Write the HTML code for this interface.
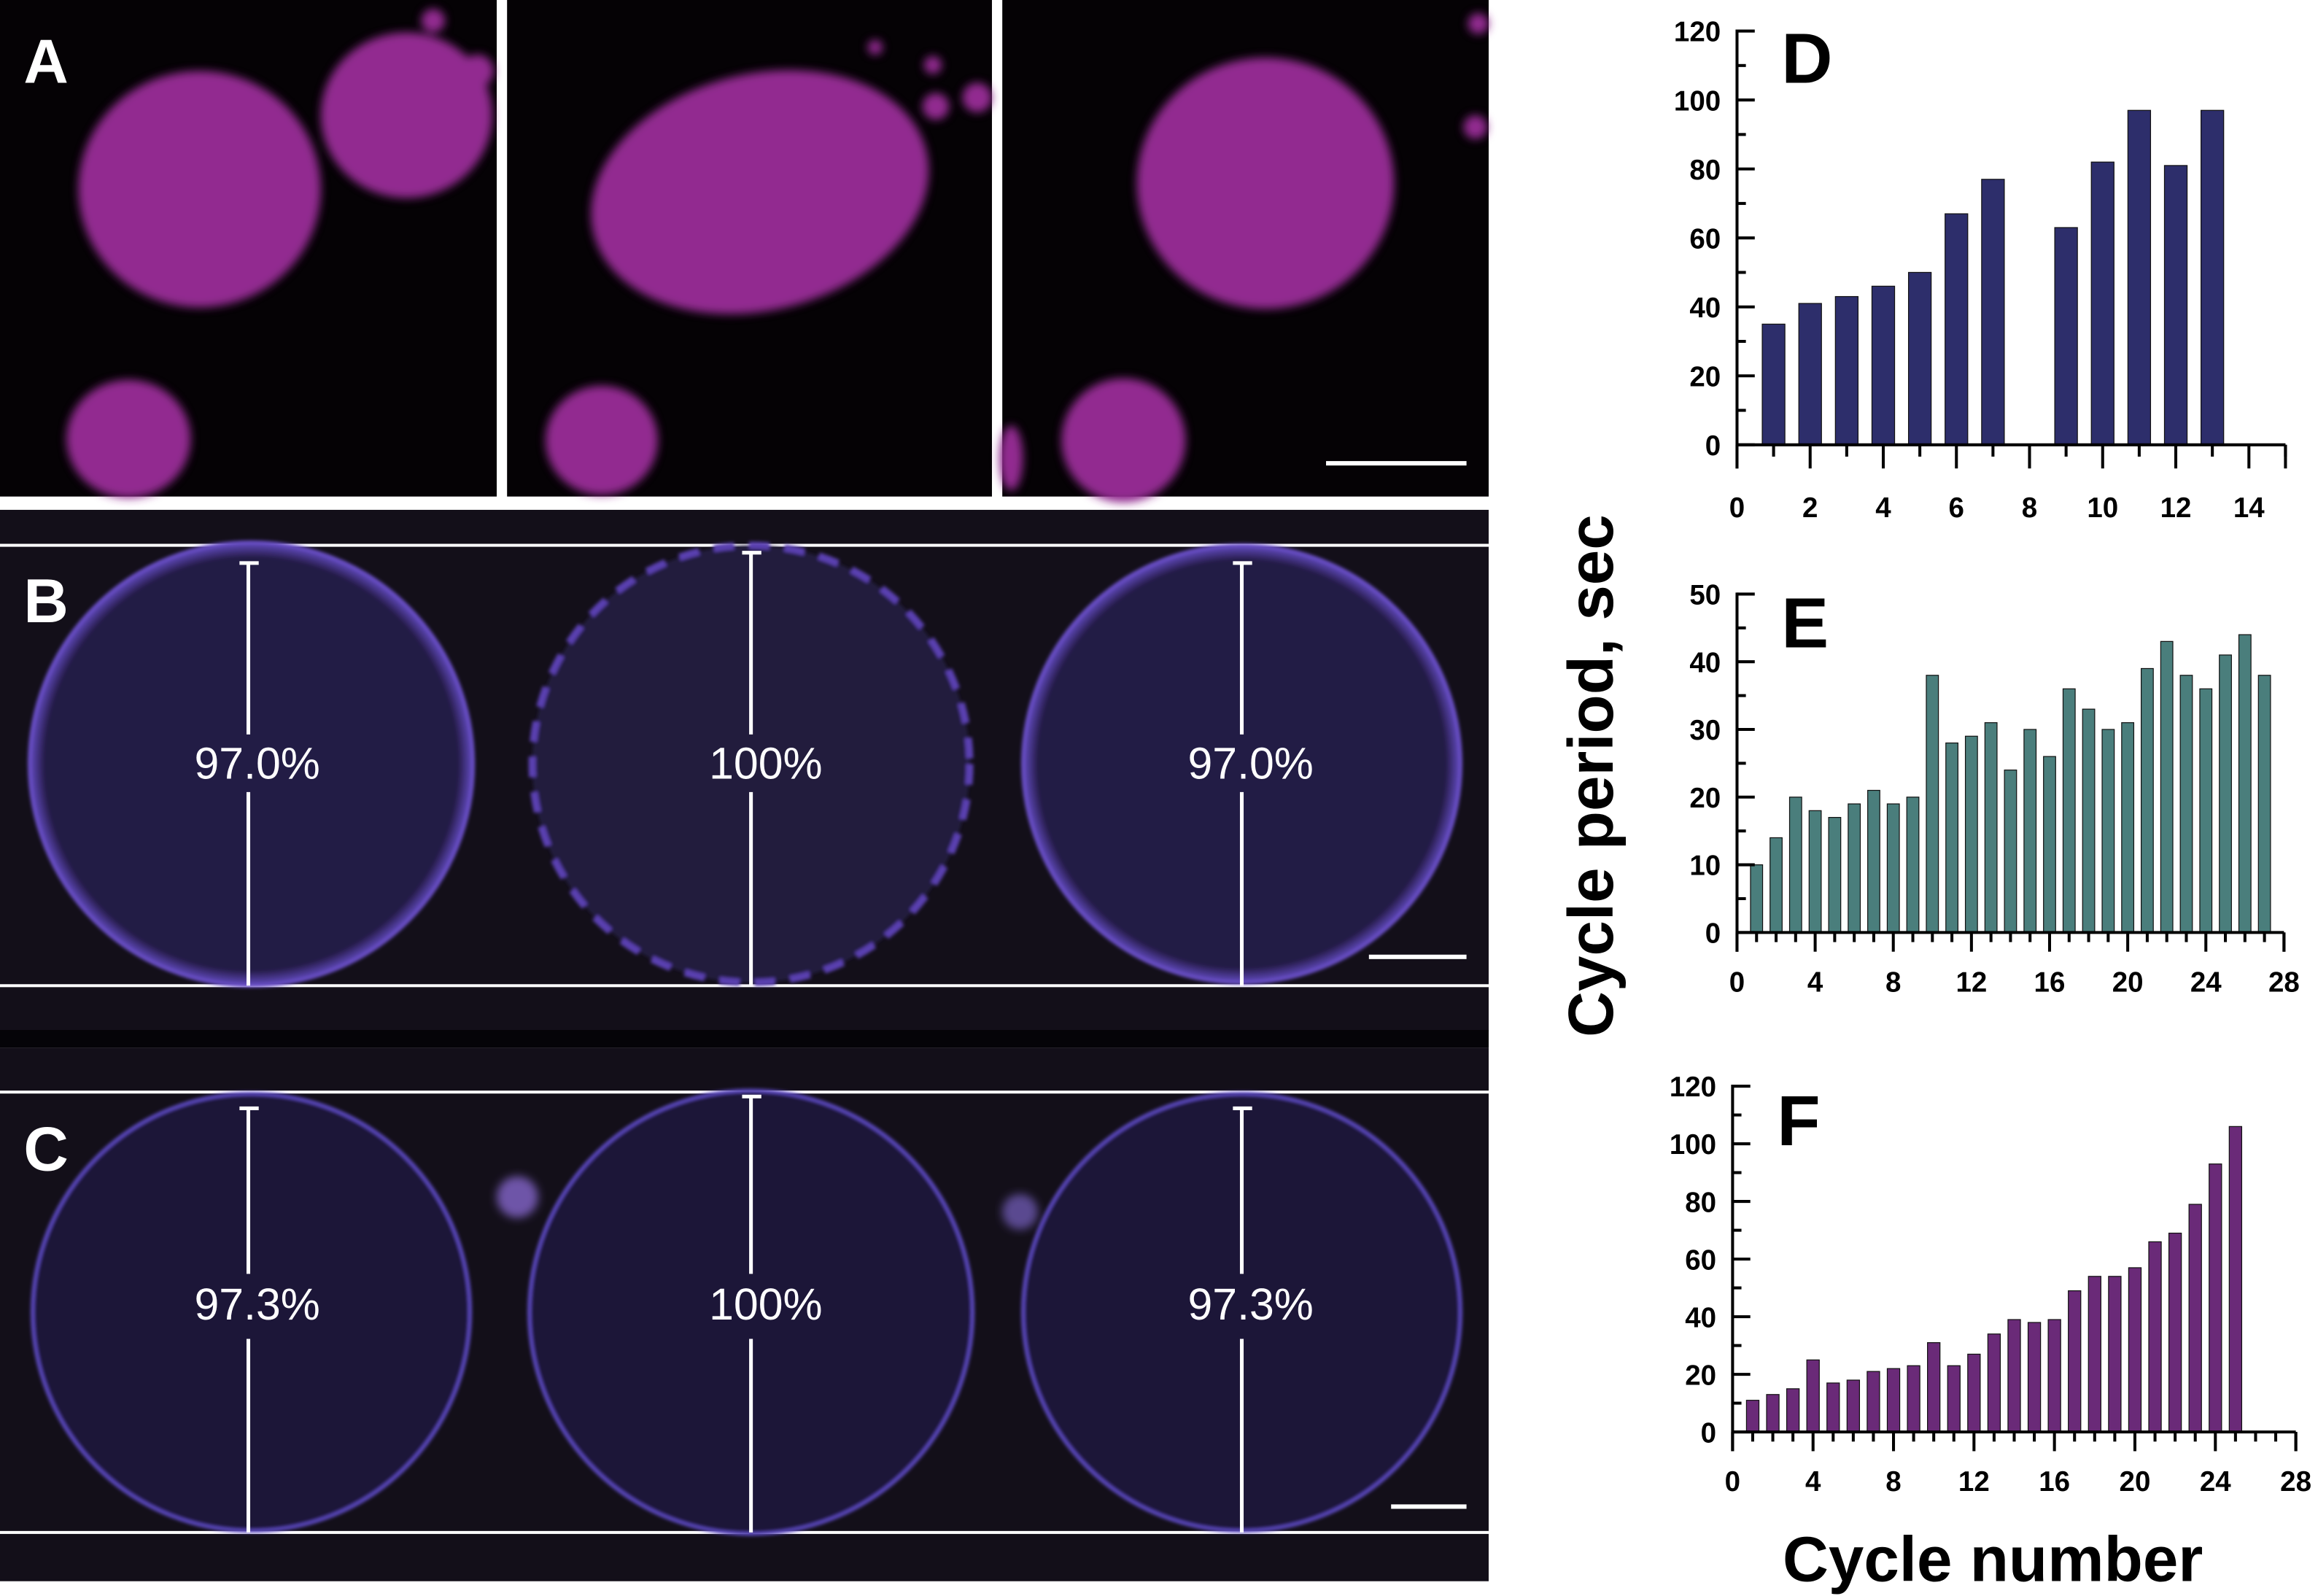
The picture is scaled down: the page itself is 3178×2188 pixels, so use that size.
<!DOCTYPE html>
<html><head><meta charset="utf-8"><style>
html,body{margin:0;padding:0;background:#fff;}
svg{display:block;}
.ax{font-family:"Liberation Sans Narrow","Liberation Sans",sans-serif;font-weight:bold;font-size:19px;fill:#000;}
</style></head><body>
<svg id="fig" xmlns="http://www.w3.org/2000/svg" width="3178" height="2188" viewBox="0 0 1568 1080" preserveAspectRatio="none">
<defs>
<filter id="blur" x="-20%" y="-20%" width="140%" height="140%"><feGaussianBlur stdDeviation="3"/></filter>
<filter id="blur2" x="-20%" y="-20%" width="140%" height="140%"><feGaussianBlur stdDeviation="1.2"/></filter>
<radialGradient id="cellB" cx="50%" cy="50%" r="50%"><stop offset="0.93" stop-color="#231a44"/><stop offset="0.99" stop-color="#5a44b0"/><stop offset="1" stop-color="#2a1f50"/></radialGradient>
</defs>
<rect width="1568" height="1080" fill="#fff"/>
<!-- Panel A -->
<g>
<rect x="0" y="0" width="336" height="336" fill="#050205"/>
<rect x="343" y="0" width="328" height="336" fill="#050205"/>
<rect x="678" y="0" width="329" height="336" fill="#050205"/>
<g fill="#922c90" filter="url(#blur)">
<ellipse cx="135" cy="128" rx="82" ry="80"/>
<ellipse cx="275" cy="78" rx="58" ry="56"/>
<ellipse cx="87" cy="297" rx="42" ry="40"/>
<circle cx="293" cy="14" r="8"/><circle cx="323" cy="48" r="11"/><circle cx="283" cy="48" r="8"/>
<ellipse cx="514" cy="130" rx="116" ry="80" transform="rotate(-14 514 130)"/>
<ellipse cx="407" cy="298" rx="38" ry="37"/>
<circle cx="633" cy="72" r="9"/><circle cx="661" cy="66" r="10"/><circle cx="631" cy="44" r="6"/><circle cx="592" cy="32" r="5"/>
<ellipse cx="856" cy="124" rx="87" ry="85"/>
<ellipse cx="760" cy="298" rx="42" ry="42"/>
<circle cx="998" cy="86" r="8"/><circle cx="1000" cy="16" r="7"/><ellipse cx="684" cy="310" rx="8" ry="22"/>
</g>
<text x="16" y="56" font-family="Liberation Sans,sans-serif" font-weight="bold" font-size="42" fill="#fff">A</text>
<rect x="897" y="312" width="95" height="3" fill="#fff"/>
</g>
<!-- Panel B -->
<g>
<rect x="0" y="345" width="1007" height="353" fill="#130f19"/>
<rect x="0" y="697" width="1007" height="12" fill="#050408"/>
<rect x="0" y="368" width="1007" height="2" fill="#fff"/>
<rect x="0" y="666" width="1007" height="2" fill="#fff"/>
<circle cx="170" cy="517" r="150" fill="url(#cellB)" stroke="#6a50c8" stroke-width="2.5" filter="url(#blur2)"/>
<circle cx="508" cy="517" r="148" fill="#211a3e" stroke="#5a40b0" stroke-width="5" stroke-dasharray="14 10" filter="url(#blur2)"/>
<circle cx="840" cy="517" r="148" fill="url(#cellB)" stroke="#6a50c8" stroke-width="2.5" filter="url(#blur2)"/>
<g stroke="#fff" stroke-width="2.5">
<line x1="168" y1="381" x2="168" y2="497"/><line x1="168" y1="536" x2="168" y2="667"/><line x1="162" y1="381" x2="175" y2="381"/>
<line x1="508" y1="374" x2="508" y2="497"/><line x1="508" y1="536" x2="508" y2="667"/><line x1="502" y1="374" x2="515" y2="374"/>
<line x1="840" y1="381" x2="840" y2="497"/><line x1="840" y1="536" x2="840" y2="667"/><line x1="834" y1="381" x2="847" y2="381"/>
</g>
<g font-family="Liberation Sans,sans-serif" font-size="30" fill="#fff" text-anchor="middle">
<text x="174" y="527">97.0%</text>
<text x="518" y="527">100%</text>
<text x="846" y="527">97.0%</text>
</g>
<text x="16" y="421" font-family="Liberation Sans,sans-serif" font-weight="bold" font-size="42" fill="#fff">B</text>
<rect x="926" y="646" width="66" height="3" fill="#fff"/>
</g>
<!-- Panel C -->
<g>
<rect x="0" y="709" width="1007" height="361" fill="#130f19"/>
<rect x="0" y="738" width="1007" height="2" fill="#fff"/>
<rect x="0" y="1036" width="1007" height="2" fill="#fff"/>
<circle cx="170" cy="888" r="148" fill="#1e1838" stroke="#5c48c0" stroke-width="2.5" filter="url(#blur2)"/>
<circle cx="508" cy="888" r="150" fill="#1e1838" stroke="#5c48c0" stroke-width="2.5" filter="url(#blur2)"/>
<circle cx="840" cy="888" r="148" fill="#1e1838" stroke="#5c48c0" stroke-width="2.5" filter="url(#blur2)"/>
<circle cx="350" cy="810" r="14" fill="#6e55a8" filter="url(#blur)"/>
<circle cx="690" cy="820" r="12" fill="#5a4890" filter="url(#blur)"/>
<g stroke="#fff" stroke-width="2.5">
<line x1="168" y1="750" x2="168" y2="862"/><line x1="168" y1="906" x2="168" y2="1037"/><line x1="162" y1="750" x2="175" y2="750"/>
<line x1="508" y1="742" x2="508" y2="862"/><line x1="508" y1="906" x2="508" y2="1037"/><line x1="502" y1="742" x2="515" y2="742"/>
<line x1="840" y1="750" x2="840" y2="862"/><line x1="840" y1="906" x2="840" y2="1037"/><line x1="834" y1="750" x2="847" y2="750"/>
</g>
<g font-family="Liberation Sans,sans-serif" font-size="30" fill="#fff" text-anchor="middle">
<text x="174" y="893">97.3%</text>
<text x="518" y="893">100%</text>
<text x="846" y="893">97.3%</text>
</g>
<text x="16" y="792" font-family="Liberation Sans,sans-serif" font-weight="bold" font-size="42" fill="#fff">C</text>
<rect x="941" y="1018" width="51" height="3" fill="#fff"/>
</g>
<text transform="translate(1091,525) rotate(-90)" text-anchor="middle" font-family="Liberation Sans,sans-serif" font-weight="bold" font-size="43">Cycle period, sec</text>
<text x="1348" y="1070" text-anchor="middle" font-family="Liberation Sans,sans-serif" font-weight="bold" font-size="43">Cycle number</text>
<g id="charts"></g>
</svg>
<script>
const dCategories = [1,2,3,4,5,6,7,9,10,11,12,13];
const dValues = [35,41,43,46,50,67,77,63,82,97,81,97];
const dYTicks = [0,20,40,60,80,100,120];
const dXTicks = [0,2,4,6,8,10,12,14];
const eCategories = [1,2,3,4,5,6,7,8,9,10,11,12,13,14,15,16,17,18,19,20,21,22,23,24,25,26,27];
const eValues = [10,14,20,18,17,19,21,19,20,38,28,29,31,24,30,26,36,33,30,31,39,43,38,36,41,44,38];
const eYTicks = [0,10,20,30,40,50];
const eXTicks = [0,4,8,12,16,20,24,28];
const fCategories = [1,2,3,4,5,6,7,8,9,10,11,12,13,14,15,16,17,18,19,20,21,22,23,24,25];
const fValues = [11,13,15,25,17,18,21,22,23,31,23,27,34,39,38,39,49,54,54,57,66,69,79,93,106];
const fYTicks = [0,20,40,60,80,100,120];
const fXTicks = [0,4,8,12,16,20,24,28];

const NS = "http://www.w3.org/2000/svg";
const root = document.getElementById('charts');
function mk(tag, attrs, parent){const e=document.createElementNS(NS,tag);for(const k in attrs)e.setAttribute(k,attrs[k]);parent.appendChild(e);return e;}

function chart(o){
  const g = mk('g',{},root);
  
  
  const xs = v => o.x0 + (v - 0) * (o.x1 - o.x0) / o.xMax;
  const ys = v => o.y0 - v * (o.y0 - o.y1) / o.yMax;
  o.cats.forEach((c,i)=>{
    const w = (o.x1-o.x0)/o.xMax*0.62;
    const r = mk('rect',{x:xs(c)-w/2,y:ys(o.vals[i]),width:w,height:o.y0-ys(o.vals[i]),fill:o.color,stroke:'#111',"stroke-width":0.6},g);
    
    
  });
  mk('line',{x1:o.x0,y1:ys(o.yMax)-1,x2:o.x0,y2:o.y0+o.maj,stroke:'#000','stroke-width':2},g);
  mk('line',{x1:o.x0,y1:o.y0,x2:o.x1,y2:o.y0,stroke:'#000','stroke-width':2},g);
  mk('line',{x1:o.x1,y1:o.y0,x2:o.x1,y2:o.y0+o.maj,stroke:'#000','stroke-width':2},g);
  const ystep = o.yTicks[1]-o.yTicks[0];
  for(let v=0; v<=o.yMax; v+=ystep/2){
    const major = o.yTicks.includes(v);
    mk('line',{x1:o.x0,y1:ys(v),x2:o.x0+(major?12:6),y2:ys(v),stroke:'#000','stroke-width':2},g);
  }
  o.yTicks.forEach(v=>{
    const t = mk('text',{x:o.x0-11,y:ys(v)+7,'text-anchor':'end','class':'ax'},g);
    t.textContent = v;
    
    
  });
  for(let v=0; v<=o.xMax; v+=1){
    const major = o.xTicks.includes(v);
    mk('line',{x1:xs(v),y1:o.y0,x2:xs(v),y2:o.y0+(major?o.maj:o.maj/2),stroke:'#000','stroke-width':2},g);
  }
  o.xTicks.forEach(v=>{
    const t = mk('text',{x:xs(v),y:o.labY,'text-anchor':'middle','class':'ax'},g);
    t.textContent = v;
    
    
  });
  const L = mk('text',{x:o.x0+30,y:o.letY,'font-family':'Liberation Sans,sans-serif','font-weight':'bold','font-size':48},g);
  L.textContent = o.letter;
  
  
}
chart({name:'chart-d',cats:dCategories,vals:dValues,yTicks:dYTicks,xTicks:dXTicks,x0:1175,x1:1546,xMax:15,y0:301,y1:21,yMax:120,maj:16,labY:350,color:'#2d2e6b',letter:'D',letY:56});
chart({name:'chart-e',cats:eCategories,vals:eValues,yTicks:eYTicks,xTicks:eXTicks,x0:1175,x1:1545,xMax:28,y0:631,y1:402,yMax:50,maj:13,labY:671,color:'#4a7e7c',letter:'E',letY:438});
chart({name:'chart-f',cats:fCategories,vals:fValues,yTicks:fYTicks,xTicks:fXTicks,x0:1172,x1:1553,xMax:28,y0:969,y1:735,yMax:120,maj:13,labY:1009,color:'#6a2a78',letter:'F',letY:775});
</script>
</body></html>
